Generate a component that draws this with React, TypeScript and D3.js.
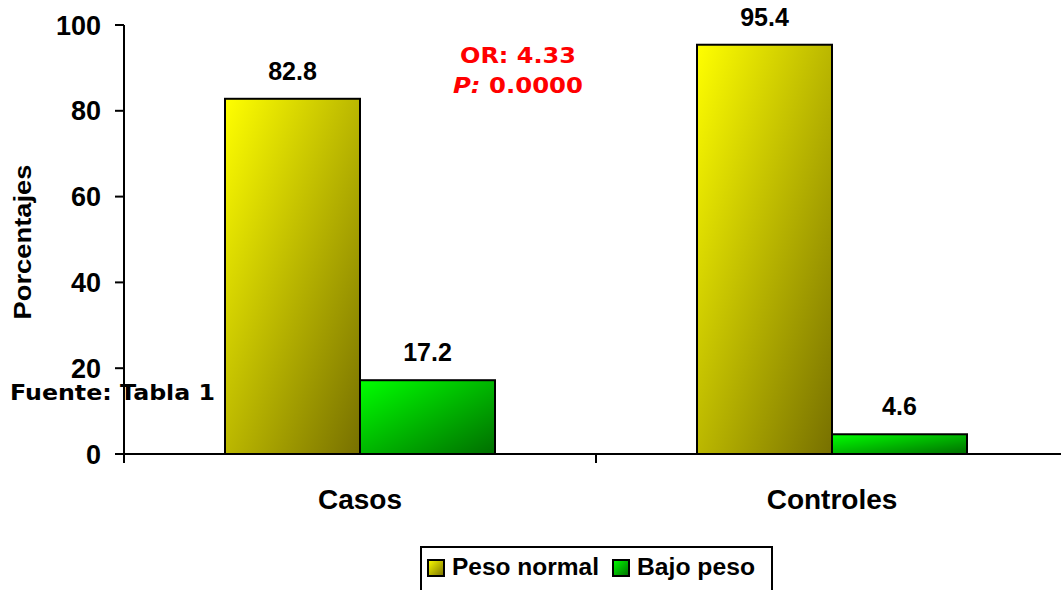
import React from "react";
import * as d3 from "d3";

const categories = ["Casos", "Controles"];
const seriesNames = ["Peso normal", "Bajo peso"];
const pesoNormal = [82.8, 95.4];
const bajoPeso = [17.2, 4.6];
const yTicks = [0, 20, 40, 60, 80, 100];

const W = 1061;
const H = 590;

export default function App() {
  const x = d3.scaleBand<string>().domain(categories).range([124, 1068]).paddingInner(0).paddingOuter(0);
  const y = d3.scaleLinear().domain([0, 100]).range([454, 25]);
  const inner = d3.scaleBand<string>().domain(seriesNames).range([0, 270]);
  const groupOffset = (x.bandwidth() - 270) / 2;
  const series = [pesoNormal, bajoPeso];
  const fills = ["url(#gYellow)", "url(#gGreen)"];
  const font = "Arial, 'Liberation Sans', sans-serif";
  const vfont = "Verdana, 'DejaVu Sans', sans-serif";
  const legendX = [428, 613];
  const legendW = [147, 118];

  return (
    <svg width={W} height={H} style={{ position: "absolute", left: 0, top: 0 }}>
      <defs>
        <linearGradient id="gYellow" x1="0" y1="0" x2="1" y2="1">
          <stop offset="0" stopColor="#ffff00" />
          <stop offset="1" stopColor="#777000" />
        </linearGradient>
        <linearGradient id="gGreen" x1="0" y1="0" x2="1" y2="1">
          <stop offset="0" stopColor="#00ff00" />
          <stop offset="1" stopColor="#006e00" />
        </linearGradient>
      </defs>
      <rect width={W} height={H} fill="#fff" />

      {/* bars */}
      {categories.map((c, ci) =>
        seriesNames.map((s, si) => {
          const v = series[si][ci];
          const bx = (x(c) as number) + groupOffset + (inner(s) as number);
          return (
            <g key={c + s}>
              <rect x={bx} y={y(v)} width={inner.bandwidth()} height={y(0) - y(v)}
                fill={fills[si]} stroke="#000" strokeWidth={2} />
              <text x={bx + inner.bandwidth() / 2} y={y(v) - 19} textAnchor="middle"
                fontFamily={font} fontWeight="bold" fontSize={25}>{v.toFixed(1)}</text>
            </g>
          );
        })
      )}

      {/* y axis */}
      <line x1={124} x2={124} y1={25} y2={463} stroke="#000" strokeWidth={2} />
      {yTicks.map((t) => (
        <g key={t}>
          <line x1={115} x2={124} y1={y(t)} y2={y(t)} stroke="#000" strokeWidth={2} />
          <text x={101} y={y(t) + 9.5} textAnchor="end" fontFamily={font} fontWeight="bold" fontSize={27}>{t}</text>
        </g>
      ))}
      <text transform={`translate(31,242) rotate(-90)`} textAnchor="middle" fontFamily={font}
        fontWeight="bold" fontSize={24} textLength={155} lengthAdjust="spacingAndGlyphs">Porcentajes</text>

      {/* x axis */}
      <line x1={124} x2={W} y1={454} y2={454} stroke="#000" strokeWidth={2} />
      {categories.slice(1).map((c) => (
        <line key={c} x1={x(c)} x2={x(c)} y1={454} y2={463} stroke="#000" strokeWidth={2} />
      ))}
      {categories.map((c) => (
        <text key={c} x={(x(c) as number) + x.bandwidth() / 2} y={509} textAnchor="middle"
          fontFamily={font} fontWeight="bold" fontSize={28}>{c}</text>
      ))}

      {/* annotations */}
      <text x={10} y={400} fontFamily={vfont} fontWeight="bold" fontSize={22}
        textLength={205} lengthAdjust="spacingAndGlyphs">Fuente: Tabla 1</text>
      <text x={518} y={63} textAnchor="middle" fontFamily={vfont} fontWeight="bold" fontSize={21}
        fill="#ff0000" textLength={116} lengthAdjust="spacingAndGlyphs">OR: 4.33</text>
      <text x={518} y={93} textAnchor="middle" fontFamily={vfont} fontWeight="bold" fontSize={21}
        fill="#ff0000" textLength={130} lengthAdjust="spacingAndGlyphs">
        <tspan fontStyle="italic">P:</tspan> 0.0000
      </text>

      {/* legend */}
      <rect x={421} y={547} width={351} height={50} fill="#fff" stroke="#000" strokeWidth={2} />
      {seriesNames.map((s, i) => {
        const lx = legendX[i];
        return (
          <g key={s}>
            <rect x={lx} y={560} width={16} height={16} fill={fills[i]} stroke="#000" strokeWidth={2} />
            <text x={lx + 24} y={575} fontFamily={font} fontWeight="bold" fontSize={23}
              textLength={legendW[i]} lengthAdjust="spacingAndGlyphs">{s}</text>
          </g>
        );
      })}
    </svg>
  );
}
